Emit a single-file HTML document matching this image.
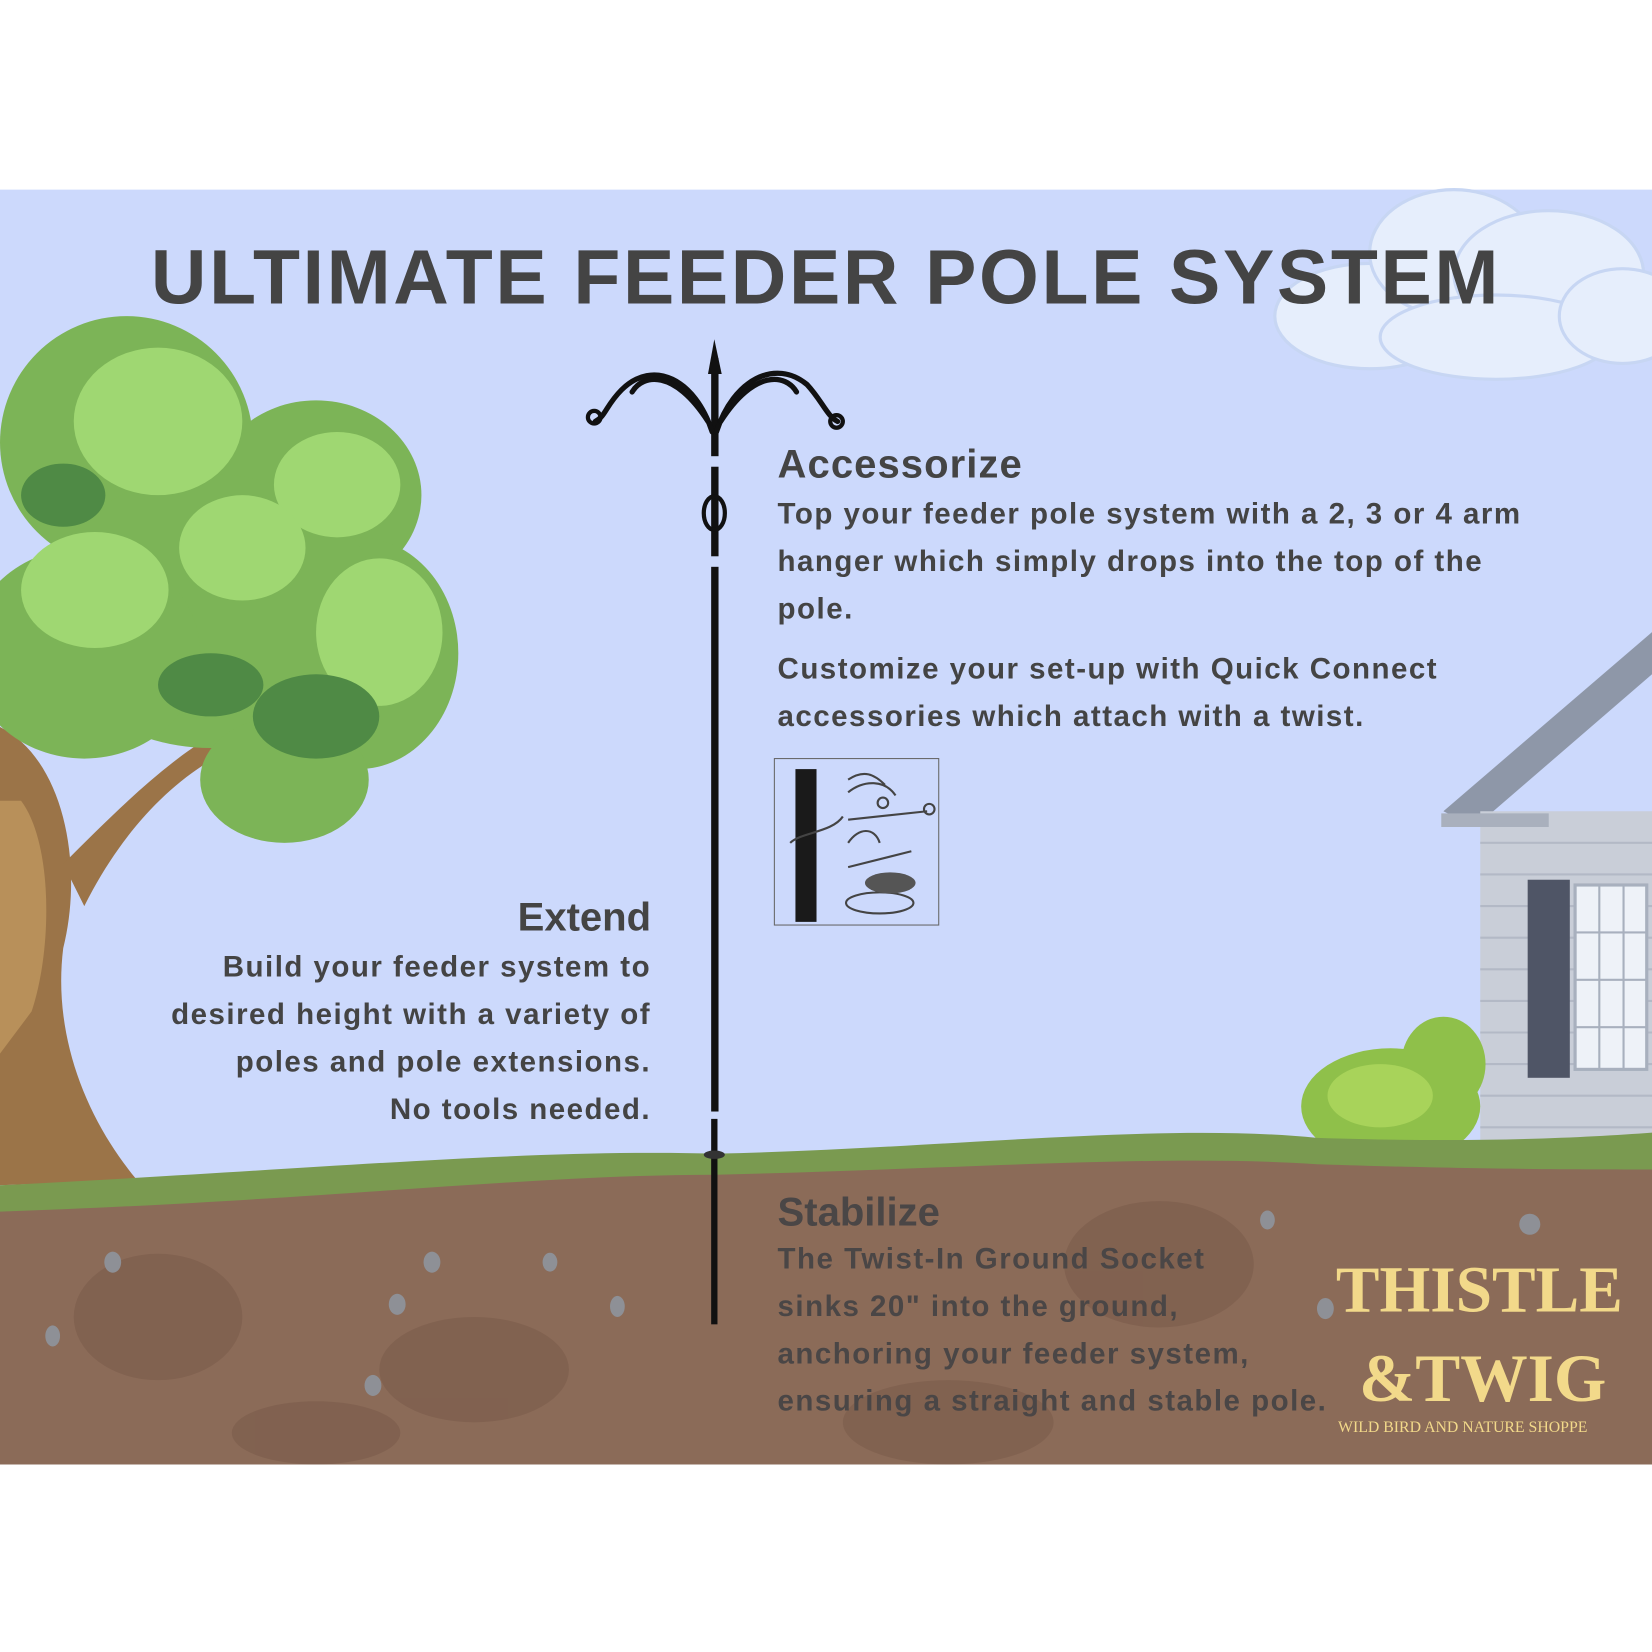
<!DOCTYPE html>
<html><head><meta charset="utf-8"><style>
html,body{margin:0;padding:0;background:#fff;width:1652px;height:1652px;overflow:hidden}
#w{position:absolute;left:0;top:0;width:1568px;height:1568px;transform:scale(1.05357);transform-origin:0 0;font-family:"Liberation Sans",sans-serif}
.t{position:absolute;color:#444;font-weight:bold;white-space:nowrap}
.b{letter-spacing:1.4px}
</style></head><body><div id="w">
<svg width="1568" height="1568" style="position:absolute;left:0;top:0">
<rect x="0" y="180" width="1568" height="1210" fill="#ccd9fc"/>
<g fill="#e6eefc" stroke="#c7d6f3" stroke-width="3">
<ellipse cx="1300" cy="300" rx="90" ry="50"/><ellipse cx="1380" cy="240" rx="80" ry="60"/><ellipse cx="1470" cy="260" rx="90" ry="60"/><ellipse cx="1420" cy="320" rx="110" ry="40"/><ellipse cx="1540" cy="300" rx="60" ry="45"/>
</g>
<polygon points="1370,770 1568,600 1568,640 1400,785" fill="#8e97a8"/>
<rect x="1405" y="770" width="163" height="325" fill="#c9ced8"/>
<g stroke="#b3b9c6" stroke-width="2">
<line x1="1405" y1="800" x2="1568" y2="800"/><line x1="1405" y1="830" x2="1568" y2="830"/><line x1="1405" y1="860" x2="1568" y2="860"/><line x1="1405" y1="890" x2="1568" y2="890"/><line x1="1405" y1="920" x2="1568" y2="920"/><line x1="1405" y1="950" x2="1568" y2="950"/><line x1="1405" y1="980" x2="1568" y2="980"/><line x1="1405" y1="1010" x2="1568" y2="1010"/><line x1="1405" y1="1040" x2="1568" y2="1040"/><line x1="1405" y1="1070" x2="1568" y2="1070"/>
</g>
<polygon points="1368,772 1470,772 1470,785 1368,785" fill="#a9b0bd"/>
<rect x="1450" y="835" width="40" height="188" fill="#4f5566"/>
<rect x="1495" y="840" width="68" height="175" fill="#eef2f8" stroke="#a8b0be" stroke-width="3"/>
<g stroke="#a8b0be" stroke-width="2"><line x1="1518" y1="840" x2="1518" y2="1015"/><line x1="1541" y1="840" x2="1541" y2="1015"/><line x1="1495" y1="885" x2="1563" y2="885"/><line x1="1495" y1="930" x2="1563" y2="930"/><line x1="1495" y1="975" x2="1563" y2="975"/></g>
<g fill="#8fc04a"><ellipse cx="1320" cy="1050" rx="85" ry="55"/><ellipse cx="1370" cy="1010" rx="40" ry="45"/></g>
<ellipse cx="1310" cy="1040" rx="50" ry="30" fill="#a8d35a"/>
<path d="M0,690 C60,720 80,820 60,900 C50,980 80,1060 130,1120 L0,1125 Z" fill="#9b7448"/>
<path d="M20,760 C50,800 50,900 30,960 L0,1000 L0,760Z" fill="#b8905a"/>
<path d="M60,820 C120,760 180,700 240,680 L250,700 C180,720 120,780 80,860Z" fill="#9b7448"/>
<g fill="#7cb457">
<ellipse cx="120" cy="420" rx="120" ry="120"/><ellipse cx="300" cy="470" rx="100" ry="90"/><ellipse cx="340" cy="620" rx="95" ry="110"/><ellipse cx="200" cy="580" rx="160" ry="130"/><ellipse cx="80" cy="620" rx="110" ry="100"/><ellipse cx="270" cy="740" rx="80" ry="60"/>
</g>
<g fill="#9fd772">
<ellipse cx="150" cy="400" rx="80" ry="70"/><ellipse cx="320" cy="460" rx="60" ry="50"/><ellipse cx="360" cy="600" rx="60" ry="70"/><ellipse cx="90" cy="560" rx="70" ry="55"/><ellipse cx="230" cy="520" rx="60" ry="50"/>
</g>
<g fill="#4f8a45"><ellipse cx="300" cy="680" rx="60" ry="40"/><ellipse cx="60" cy="470" rx="40" ry="30"/><ellipse cx="200" cy="650" rx="50" ry="30"/></g>
<path d="M0,1125 C300,1110 500,1090 680,1095 C900,1090 1100,1065 1250,1080 C1400,1085 1500,1080 1568,1075 L1568,1390 L0,1390Z" fill="#7a9a50"/>
<path d="M0,1150 C300,1140 500,1115 680,1115 C900,1110 1100,1095 1250,1105 C1400,1110 1500,1110 1568,1110 L1568,1390 L0,1390Z" fill="#8b6b58"/>
<g fill="#7b5c4b" opacity="0.6"><ellipse cx="150" cy="1250" rx="80" ry="60"/><ellipse cx="450" cy="1300" rx="90" ry="50"/><ellipse cx="900" cy="1350" rx="100" ry="40"/><ellipse cx="1100" cy="1200" rx="90" ry="60"/><ellipse cx="300" cy="1360" rx="80" ry="30"/></g>
<g fill="#8e9096"><ellipse cx="107" cy="1198" rx="8" ry="10"/><ellipse cx="410" cy="1198" rx="8" ry="10"/><ellipse cx="377" cy="1238" rx="8" ry="10"/><ellipse cx="50" cy="1268" rx="7" ry="10"/><ellipse cx="354" cy="1315" rx="8" ry="10"/><ellipse cx="1452" cy="1162" rx="10" ry="10"/><ellipse cx="1258" cy="1242" rx="8" ry="10"/><ellipse cx="1203" cy="1158" rx="7" ry="9"/><ellipse cx="586" cy="1240" rx="7" ry="10"/><ellipse cx="522" cy="1198" rx="7" ry="9"/></g>
<rect x="675" y="340" width="7" height="93" fill="#111"/>
<polygon points="678,322 672,355 685,355" fill="#111"/>
<rect x="675" y="443" width="7" height="85" fill="#111"/>
<rect x="675" y="538" width="7" height="517" fill="#111"/>
<rect x="675" y="1062" width="6" height="195" fill="#111"/>
<ellipse cx="678" cy="487" rx="10" ry="16" fill="none" stroke="#111" stroke-width="4"/>
<ellipse cx="678" cy="1096" rx="10" ry="4" fill="#333"/>
<g fill="none" stroke="#111" stroke-width="5" stroke-linecap="round">
<path d="M676,410 C660,360 620,340 590,370 C575,385 575,395 565,400"/>
<path d="M680,410 C696,360 736,340 766,365 C780,380 785,395 795,400"/>
<path d="M672,400 C640,350 610,355 600,372"/>
<path d="M684,400 C716,350 746,355 756,372"/>
</g>
<g fill="none" stroke="#111" stroke-width="4"><circle cx="564" cy="396" r="6"/><circle cx="794" cy="400" r="6"/></g>
<rect x="735" y="720" width="156" height="158" fill="#ccd9fc" stroke="#666" stroke-width="1"/>
<rect x="755" y="730" width="20" height="145" fill="#1a1a1a"/>
<g fill="none" stroke="#444" stroke-width="2"><path d="M805,740 C820,730 830,735 840,745"/><path d="M805,752 C820,740 840,740 850,755"/><path d="M805,778 L880,770"/><circle cx="838" cy="762" r="5"/><circle cx="882" cy="768" r="5"/><path d="M805,800 C815,785 830,785 835,800"/><path d="M805,823 L865,808"/><ellipse cx="835" cy="857" rx="32" ry="10"/><path d="M750,800 C760,790 790,790 800,775"/></g>
<ellipse cx="845" cy="838" rx="24" ry="10" fill="#555"/>
</svg>
<div class="t" style="left:0;width:1568px;text-align:center;top:222px;font-size:73px;letter-spacing:2.5px;color:#444">ULTIMATE FEEDER POLE SYSTEM</div>
<div class="t" style="left:738px;top:420px;font-size:38px;letter-spacing:1px">Accessorize</div>
<div class="t b" style="left:738px;top:465px;font-size:28px;line-height:45px">Top your feeder pole system with a 2, 3 or 4 arm<br>hanger which simply drops into the top of the<br>pole.</div>
<div class="t b" style="left:738px;top:612px;font-size:28px;line-height:45px">Customize your set-up with Quick Connect<br>accessories which attach with a twist.</div>
<div class="t" style="right:950px;top:850px;font-size:38px;text-align:right">Extend</div>
<div class="t b" style="right:950px;top:895px;font-size:28px;line-height:45px;text-align:right">Build your feeder system to<br>desired height with a variety of<br>poles and pole extensions.<br>No tools needed.</div>
<div class="t" style="left:738px;top:1130px;font-size:38px;color:#4a4646">Stabilize</div>
<div class="t b" style="left:738px;top:1172px;font-size:28px;line-height:45px;color:#4a4646">The Twist-In Ground Socket<br>sinks 20" into the ground,<br>anchoring your feeder system,<br>ensuring a straight and stable pole.</div>
<div class="t" style="left:1268px;top:1190px;font-size:62px;color:#f2d98a;font-family:'Liberation Serif',serif">THISTLE</div>
<div class="t" style="left:1290px;top:1272px;font-size:64px;color:#f2d98a;font-family:'Liberation Serif',serif">&amp;TWIG</div>
<div class="t" style="left:1270px;top:1347px;font-size:15px;color:#f2d98a;font-family:'Liberation Serif',serif;font-weight:normal">WILD BIRD AND NATURE SHOPPE</div>
</div></body></html>
